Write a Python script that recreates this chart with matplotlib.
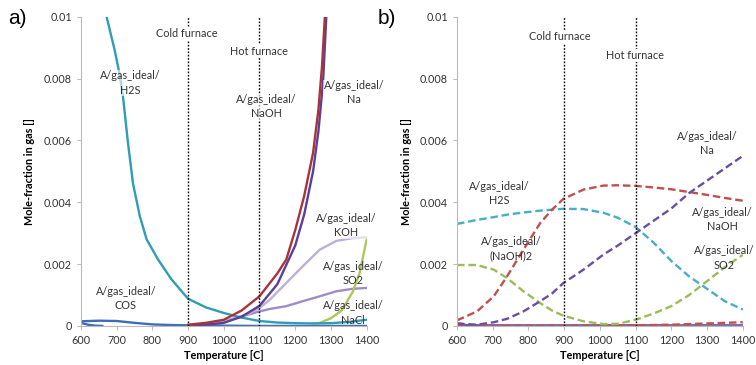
import matplotlib.pyplot as plt
import numpy as np

plt.rcParams['font.family'] = ['Lato', 'DejaVu Sans']

# --- a) твёрдые линии ---
T_h2s_a = [655, 672, 695, 709, 718, 732, 746, 765, 784, 816, 854, 900, 950, 1000, 1050, 1100, 1150,
           1200, 1250, 1300, 1350, 1400]
h2s_a = [0.0106, 0.0100, 0.0089, 0.0081, 0.0074, 0.0059, 0.0046, 0.00355, 0.0028, 0.00215, 0.0015,
         0.00088, 0.0006, 0.00042, 0.00027, 0.00016, 0.00011, 0.00009, 0.00008, 0.00009, 0.00013, 0.0002]
T_naoh_a = [900, 950, 1000, 1050, 1100, 1150, 1175, 1200, 1225, 1250, 1265, 1275, 1283, 1290]
naoh_a = [0.00004, 0.0001, 0.0002, 0.0005, 0.00096, 0.0017, 0.00215, 0.0031, 0.0042, 0.0056, 0.0070,
          0.0084, 0.0100, 0.0113]
T_na_a = [900, 950, 1000, 1050, 1100, 1150, 1200, 1225, 1250, 1265, 1278, 1287, 1293]
na_a = [0.00002, 0.00004, 0.0001, 0.0003, 0.00065, 0.00135, 0.0026, 0.0036, 0.0050, 0.0063, 0.0079,
        0.0100, 0.0112]
T_koh_a = [900, 950, 1000, 1035, 1070, 1100, 1129, 1175, 1221, 1269, 1315, 1360, 1400]
koh_a = [0.00002, 0.00006, 0.00015, 0.00026, 0.0004, 0.00058, 0.00085, 0.00139, 0.00193, 0.00247,
         0.00275, 0.00284, 0.00287]
so2_a = [0.00002, 0.00006, 0.00015, 0.00026, 0.00037, 0.00047, 0.00055, 0.00064, 0.0008, 0.00096,
         0.00112, 0.0012, 0.00123]
T_nacl_a = [1250, 1269, 1300, 1330, 1361, 1380, 1400]
nacl_a = [0.00008, 0.0001, 0.00025, 0.0005, 0.0011, 0.0017, 0.0028]
T_cos_a = [600, 650, 700, 750, 800, 850, 900, 950, 1000, 1100, 1200, 1300, 1400]
cos_a = [0.00015, 0.00017, 0.00016, 0.0001, 0.00005, 0.00003, 0.00002, 0.00002, 0.00001, 0.0,
         0.0, 0.0, 0.0]
T_x_a = [600, 620, 640, 660]
x_a = [0.0001, 0.00004, 0.00001, 0.0]

# --- b) пунктир ---
T_b = [600, 656, 703, 740, 786, 833, 866, 898, 954, 1010, 1050, 1100, 1150, 1200, 1250, 1300, 1350, 1400]
naoh_b = [0.00018, 0.00047, 0.00096, 0.0016, 0.00247, 0.00333, 0.00376, 0.00411, 0.00441, 0.00454,
          0.00455, 0.00453, 0.00448, 0.00442, 0.00433, 0.00424, 0.00414, 0.00405]
h2s_b = [0.0033, 0.00343, 0.00352, 0.0036, 0.00367, 0.00373, 0.00376, 0.00379, 0.00378, 0.00366,
         0.0035, 0.0032, 0.0027, 0.0021, 0.0016, 0.0012, 0.0008, 0.00053]
naoh2_b = [0.00197, 0.00197, 0.00182, 0.00155, 0.00112, 0.00074, 0.0005, 0.00033, 0.00015, 0.00006,
           0.00007, 0.0002, 0.0004, 0.00064, 0.001, 0.00145, 0.0019, 0.0023]
na_b = [0.00008, 0.00004, 0.00012, 0.00023, 0.00047, 0.0008, 0.00105, 0.00139, 0.00182, 0.00231,
        0.0026, 0.003, 0.0034, 0.0038, 0.0043, 0.0047, 0.0051, 0.0055]
T_koh_b = [600, 1000, 1050, 1100, 1150, 1200, 1250, 1300, 1350, 1400]
koh_b = [0.0, 0.0, 0.00001, 0.00002, 0.00003, 0.00004, 0.00006, 0.00008, 0.0001, 0.00012]
T_low_b = [600, 1400]
low_b = [0.00002, 0.00002]
T_x_b = [600, 620, 640, 660]
x_b = [0.0001, 0.00004, 0.00001, 0.0]

red_a = '#A8343A'
purple_a = '#5A4099'
teal_a = '#2E9DB5'
lav_light = '#BCB0D8'
lav_mid = '#9F8CC6'
green_a = '#A9C75A'
blue_a = '#3E6DB8'

red_b = '#C0504D'
cyan_b = '#4BACC6'
green_b = '#9BBB59'
purple_b = '#6A4FA0'

fig = plt.figure(figsize=(7.56, 3.65), dpi=100)
ax_a = fig.add_axes([0.107, 0.107, 0.378, 0.847])
ax_b = fig.add_axes([0.6045, 0.107, 0.378, 0.847])

lw = 1.7
ax_a.plot(T_cos_a, cos_a, color=blue_a, lw=lw)
ax_a.plot(T_x_a, x_a, color=blue_a, lw=lw)
ax_a.plot(T_koh_a, so2_a, color=lav_mid, lw=lw)
ax_a.plot(T_koh_a, koh_a, color=lav_light, lw=lw)
ax_a.plot(T_nacl_a, nacl_a, color=green_a, lw=lw)
ax_a.plot(T_h2s_a, h2s_a, color=teal_a, lw=lw)
ax_a.plot(T_na_a, na_a, color=purple_a, lw=lw)
ax_a.plot(T_naoh_a, naoh_a, color=red_a, lw=lw)

dash = (0, (3.2, 1.6))
ax_b.plot(T_x_b, x_b, color=teal_a, lw=lw)
ax_b.plot(T_low_b, low_b, color=purple_b, lw=1.2)
ax_b.plot(T_koh_b, koh_b, color=red_b, lw=lw, linestyle=dash)
ax_b.plot(T_b, naoh2_b, color=green_b, lw=lw, linestyle=dash)
ax_b.plot(T_b, h2s_b, color=cyan_b, lw=lw, linestyle=dash)
ax_b.plot(T_b, naoh_b, color=red_b, lw=lw, linestyle=dash)
ax_b.plot(T_b, na_b, color=purple_b, lw=lw, linestyle=dash)

fs = 7.8
box = dict(facecolor='white', edgecolor='none', pad=0.5, alpha=0.6)


def label(ax, x, y, text, bbox=box):
    ax.text(x, y, text, ha='center', va='center', fontsize=fs, color='#333333',
            linespacing=1.35, bbox=bbox, clip_on=False, zorder=5)


for ax in (ax_a, ax_b):
    ax.set_xlim(600, 1400)
    ax.set_ylim(0, 0.01)
    ax.set_xticks(range(600, 1401, 100))
    ax.set_yticks([0, 0.002, 0.004, 0.006, 0.008, 0.01])
    ax.set_yticklabels(['0', '0.002', '0.004', '0.006', '0.008', '0.01'])
    ax.tick_params(labelsize=fs, colors='#BBBBBB', labelcolor='#333333', length=3, width=0.8)
    for side in ('top', 'right'):
        ax.spines[side].set_visible(False)
    for side in ('left', 'bottom'):
        ax.spines[side].set_color('#BBBBBB')
    ax.axvline(900, color='black', lw=1.0, linestyle=(0, (1.2, 1.2)), zorder=4)
    ax.axvline(1100, color='black', lw=1.0, linestyle=(0, (1.2, 1.2)), zorder=4)
    ax.set_xlabel('Temperature [C]', fontsize=fs, fontweight='bold', labelpad=3)
    ax.set_ylabel('Mole-fraction in gas []', fontsize=fs, fontweight='bold', labelpad=6)

full = dict(facecolor='white', edgecolor='none', pad=1.0)
label(ax_a, 897, 0.00946, 'Cold furnace', full)
label(ax_a, 1099, 0.00889, 'Hot furnace', full)
label(ax_a, 737, 0.00786, 'A/gas_ideal/\nH2S')
label(ax_a, 1119, 0.00709, 'A/gas_ideal/\nNaOH')
label(ax_a, 1365, 0.00754, 'A/gas_ideal/\nNa')
label(ax_a, 1343, 0.00325, 'A/gas_ideal/\nKOH')
label(ax_a, 1362, 0.00169, 'A/gas_ideal/\nSO2', None)
label(ax_a, 1362, 0.00042, 'A/gas_ideal/\nNaCl', None)
label(ax_a, 726, 0.00088, 'A/gas_ideal/\nCOS')

label(ax_b, 889, 0.00935, 'Cold furnace', full)
label(ax_b, 1098, 0.00875, 'Hot furnace', full)
label(ax_b, 718, 0.00428, 'A/gas_ideal/\nH2S')
label(ax_b, 751, 0.0025, 'A/gas_ideal/\n(NaOH)2', None)
label(ax_b, 1301, 0.0059, 'A/gas_ideal/\nNa')
label(ax_b, 1343, 0.00344, 'A/gas_ideal/\nNaOH')
label(ax_b, 1348, 0.0022, 'A/gas_ideal/\nSO2', None)

fig.text(0.011, 0.975, 'a)', fontsize=15, va='top', ha='left', family='Liberation Sans')
fig.text(0.5, 0.975, 'b)', fontsize=15, va='top', ha='left', family='Liberation Sans')

fig.savefig('out.png', dpi=100)
